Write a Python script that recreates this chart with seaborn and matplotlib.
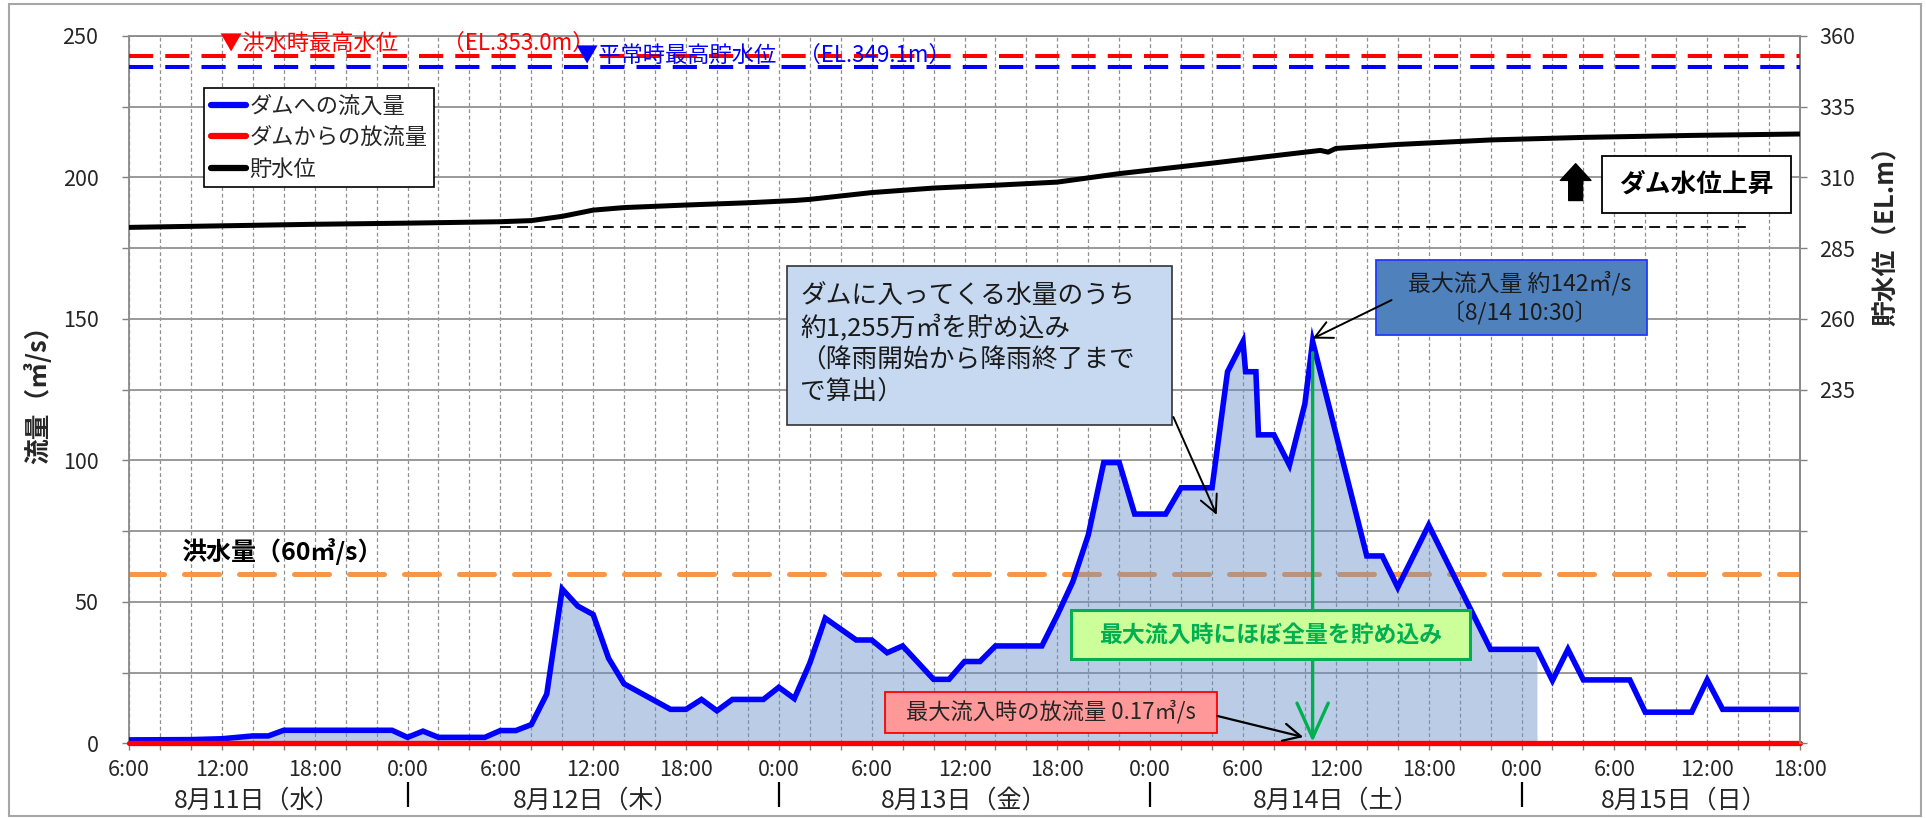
import numpy as np
import pandas as pd
import matplotlib
matplotlib.use("Agg")
import matplotlib.pyplot as plt
from matplotlib.patches import Rectangle
from matplotlib.lines import Line2D
import seaborn as sns

# ---------------- data ----------------
YEAR = 2021
START = "08-11 06:00"
END = "08-15 18:00"

inflow_time = [
    "08-11 06:00", "08-11 10:00", "08-11 12:00", "08-11 14:00", "08-11 15:00", "08-11 16:00", "08-11 23:00",
    "08-12 00:00", "08-12 01:00", "08-12 02:00", "08-12 05:00", "08-12 06:00", "08-12 07:00", "08-12 08:00",
    "08-12 09:00", "08-12 10:00", "08-12 11:00", "08-12 12:00", "08-12 13:00", "08-12 14:00", "08-12 17:00",
    "08-12 18:00", "08-12 19:00", "08-12 20:00", "08-12 21:00", "08-12 23:00",
    "08-13 00:00", "08-13 01:00", "08-13 02:00", "08-13 03:00", "08-13 05:00", "08-13 06:00", "08-13 07:00",
    "08-13 08:00", "08-13 10:00", "08-13 11:00", "08-13 12:00", "08-13 13:00", "08-13 14:00", "08-13 17:00",
    "08-13 18:00", "08-13 19:00", "08-13 20:00", "08-13 21:00", "08-13 22:00", "08-13 23:00",
    "08-14 01:00", "08-14 02:00", "08-14 04:00", "08-14 05:00", "08-14 06:00", "08-14 06:10", "08-14 06:50",
    "08-14 07:00", "08-14 08:00", "08-14 09:00", "08-14 10:00", "08-14 10:30", "08-14 14:00", "08-14 15:00",
    "08-14 16:00", "08-14 18:00", "08-14 22:00",
    "08-15 01:00", "08-15 02:00", "08-15 03:00", "08-15 04:00", "08-15 07:00", "08-15 08:00", "08-15 11:00",
    "08-15 12:00", "08-15 13:00", "08-15 18:00",
]
inflow_value = [
    1.2, 1.3, 1.6, 2.6, 2.6, 4.6, 4.6,
    2.1, 4.3, 2.1, 2.1, 4.5, 4.5, 6.6, 17.4, 54.5, 48.5, 45.5, 30.0, 21.0, 12.0, 12.0, 15.5, 11.5, 15.5, 15.5,
    19.8, 15.8, 28.3, 44.2, 36.5, 36.5, 32.0, 34.4, 22.6, 22.6, 28.9, 28.9, 34.4, 34.4, 45.3, 57.1, 73.6,
    99.2, 99.2, 81.0,
    81.0, 90.3, 90.3, 131.3, 142.0, 131.3, 131.3, 109.0, 109.0, 98.3, 120.0, 142.0, 66.2, 66.2, 55.1, 77.1, 33.2,
    33.2, 22.2, 33.2, 22.4, 22.4, 11.0, 11.0, 22.4, 12.0, 12.0,
]

outflow_time = ["08-11 06:00", "08-15 18:00"]
outflow_value = [0.17, 0.17]

level_time = [
    "08-11 06:00", "08-11 18:00", "08-12 00:00", "08-12 06:00", "08-12 08:00", "08-12 10:00", "08-12 12:00",
    "08-12 14:00", "08-12 18:00", "08-12 22:00", "08-13 01:00", "08-13 02:00", "08-13 04:00", "08-13 06:00",
    "08-13 08:00", "08-13 10:00", "08-13 14:00", "08-13 18:00", "08-13 22:00", "08-14 04:00", "08-14 08:00",
    "08-14 11:00", "08-14 11:30", "08-14 12:00", "08-14 16:00", "08-14 22:00", "08-15 04:00", "08-15 11:00",
    "08-15 18:00",
]
level_value = [
    292.3, 293.4, 293.8, 294.3, 294.7, 296.2, 298.4, 299.3, 300.2, 301.0, 301.8, 302.2, 303.4, 304.6,
    305.4, 306.2, 307.2, 308.3, 311.3, 315.0, 317.6, 319.5, 318.9, 320.2, 321.6, 323.2, 324.1, 324.8, 325.3,
]

flood_discharge = 60          # 洪水量 m3/s
flood_max_level = 353.0       # 洪水時最高水位
normal_max_level = 349.1      # 平常時最高貯水位
peak_time = "08-14 10:30"
peak_inflow = 142.0
storage_end_time = "08-15 01:00"
base_line_span = ["08-12 06:00", "08-15 14:30"]

series_labels = ["ダムへの流入量", "ダムからの放流量", "貯水位"]
day_labels = ["8月11日（水）", "8月12日（木）", "8月13日（金）", "8月14日（土）", "8月15日（日）"]
day_boundaries = ["08-12 00:00", "08-13 00:00", "08-14 00:00", "08-15 00:00"]

T0 = pd.Timestamp(f"{YEAR}-{START}")


def to_hours(stamps):
    t = pd.to_datetime([f"{YEAR}-{s}" for s in stamps])
    return ((t - T0) / pd.Timedelta(hours=1)).to_numpy(dtype=float)


inflow_df = pd.DataFrame({"h": to_hours(inflow_time), "q": inflow_value})
outflow_df = pd.DataFrame({"h": to_hours(outflow_time), "q": outflow_value})
level_df = pd.DataFrame({"h": to_hours(level_time), "el": level_value})
H_END = to_hours([END])[0]
peak_h = to_hours([peak_time])[0]
fill_end_h = to_hours([storage_end_time])[0]

# ---------------- style ----------------
sns.set_theme(style="white")
plt.rcParams["font.family"] = ["Noto Sans CJK JP", "DejaVu Sans"]
plt.rcParams["axes.unicode_minus"] = False

W, H = 1926, 818
fig = plt.figure(figsize=(W / 100, H / 100), dpi=100)
fig.patch.set_facecolor("white")

ax_left, ax_right, ax_top, ax_bot = 129, 1800, 35.8, 743.3
ax = fig.add_axes([ax_left / W, 1 - ax_bot / H, (ax_right - ax_left) / W, (ax_bot - ax_top) / H])
ax.set_facecolor("white")

BLUE = "#0000FF"
RED = "#FF0000"
ORANGE = "#F79646"
GREEN = "#00B050"

# grid
ax.set_axisbelow(True)
ax.set_xlim(0, H_END)
ax.set_ylim(0, 250)
xt_pos = np.arange(0, H_END + 0.1, 2)
ax.set_xticks(xt_pos)
ax.set_xticklabels([f"{int((6 + h) % 24)}:00" if h % 6 == 0 else "" for h in xt_pos])
ax.set_yticks(np.arange(0, 251, 25))
ax.set_yticklabels([str(v) if v % 50 == 0 else "" for v in np.arange(0, 251, 25)])
ax.yaxis.grid(True, color="#999999", lw=1.4, ls="-")
ax.xaxis.grid(True, color="#8f8f8f", lw=0.9, ls=(0, (3, 2.2)))
ax.tick_params(axis="x", which="major", length=5, width=1, color="#808080", direction="out",
               labelsize=15.5, pad=6, bottom=True)
ax.tick_params(axis="y", which="major", length=5, width=1, color="#808080", direction="out",
               labelsize=15.5, pad=17, left=True)
for s in ["left", "bottom", "top", "right"]:
    ax.spines[s].set_color("#8a8a8a")
    ax.spines[s].set_linewidth(1.3)

# flood discharge line
ax.axhline(flood_discharge, color=ORANGE, lw=3.6, dashes=(7, 4), dash_capstyle="round", zorder=2)

# stored volume fill
mask = inflow_df["h"] <= fill_end_h
ax.fill_between(inflow_df["h"][mask], inflow_df["q"][mask], 0, color="#6a92c8", alpha=0.45, lw=0, zorder=3)

# inflow / outflow lines
sns.lineplot(data=inflow_df, x="h", y="q", ax=ax, color=BLUE, lw=4.0, estimator=None, zorder=5,
             solid_joinstyle="miter")
sns.lineplot(data=outflow_df, x="h", y="q", ax=ax, color=RED, lw=3.8, estimator=None, zorder=6)
ax.lines[-1].set_clip_on(False)
ax.set_xlabel("")
ax.set_ylabel("")
ax.set_xlim(0, H_END)
ax.set_ylim(0, 250)

# secondary axis: water level
ax2 = ax.twinx()
sns.lineplot(data=level_df, x="h", y="el", ax=ax2, color="black", lw=3.6, estimator=None, zorder=5)
ax2.set_ylim(110, 360)
ax2.set_xlim(0, H_END)
ax2.set_yticks(np.arange(110, 361, 25))
ax2.set_yticklabels([str(v) if v >= 235 else "" for v in np.arange(110, 361, 25)])
ax2.tick_params(axis="y", length=5, width=1, color="#808080", direction="out", labelsize=15.5, pad=9)
ax2.set_ylabel("")
ax2.set_xlabel("")
ax2.grid(False)
for s in ["left", "bottom", "top"]:
    ax2.spines[s].set_visible(False)
ax2.spines["right"].set_color("#8a8a8a")
ax2.spines["right"].set_linewidth(1.3)

ax2.axhline(flood_max_level, color=RED, lw=2.9, dashes=(6, 3), zorder=4)
ax2.axhline(normal_max_level, color=BLUE, lw=2.9, dashes=(6, 3), zorder=4)
bl = to_hours(base_line_span)
ax2.hlines(level_value[0], bl[0], bl[1], color="black", lw=1.3, linestyles=(0, (6, 3.5)), zorder=4)

ax2.text(5.9, 357.5, f"▼洪水時最高水位　　（EL.{flood_max_level:.1f}m）", color=RED, fontsize=16,
         ha="left", va="center", zorder=6)
ax2.text(28.9, 353.2, f"▼平常時最高貯水位　（EL.{normal_max_level:.1f}m）", color=BLUE, fontsize=16,
         ha="left", va="center", zorder=6)

# ---------- annotations (left axis data coords) ----------
def box(x0, x1, y0, y1, fc, ec, lw, z=8):
    ax.add_patch(Rectangle((x0, y0), x1 - x0, y1 - y0, facecolor=fc, edgecolor=ec, lw=lw, zorder=z,
                           clip_on=False))

ax.text(3.36, 67.6, f"洪水量（{flood_discharge}㎥/s）", fontsize=18, fontweight="bold", color="black",
        ha="left", va="center", zorder=7)

# light blue storage box
box(42.53, 67.42, 112.5, 168.7, "#c6d9f1", "#333333", 1.2)
ax.text(43.4, 141.1, "ダムに入ってくる水量のうち\n約1,255万㎥を貯め込み\n（降雨開始から降雨終了まで\nで算出）",
        fontsize=18.5, ha="left", va="center", linespacing=1.28, color="#1a1a1a", zorder=9)
ax.annotate("", xy=(70.3, 80.7), xytext=(67.5, 115.3),
            arrowprops=dict(arrowstyle="->,head_length=0.5,head_width=0.25", color="black", lw=1.4,
                            mutation_scale=25, shrinkA=0, shrinkB=0), zorder=9)

# peak box
box(80.58, 98.12, 144.1, 170.9, "#4f81bd", "#1f3cff", 1.3)
ax.text(89.85, 157.4, f"最大流入量 約{peak_inflow:.0f}㎥/s\n〔8/14 10:30〕", fontsize=16.5,
        ha="center", va="center", linespacing=1.3, color="#1c1c1c", zorder=9)
ax.annotate("", xy=(peak_h, peak_inflow + 1), xytext=(81.6, 156.6),
            arrowprops=dict(arrowstyle="->,head_length=0.5,head_width=0.25", color="black", lw=1.4,
                            mutation_scale=25, shrinkA=0, shrinkB=0), zorder=9)

# green vertical arrow
ax.annotate("", xy=(peak_h, 0.5), xytext=(peak_h, peak_inflow - 4),
            arrowprops=dict(arrowstyle="->,head_length=1.0,head_width=0.45", color=GREEN, lw=2.4,
                            mutation_scale=25, shrinkA=0, shrinkB=0), zorder=7)

# green box
box(60.89, 86.68, 29.8, 47.1, "#ccff99", GREEN, 2.2)
ax.text(73.8, 38.3, "最大流入時にほぼ全量を貯め込み", fontsize=16.5, fontweight="bold", color=GREEN,
        ha="center", va="center", zorder=9)

# pink box
box(48.87, 70.33, 3.75, 18.2, "#ff9999", RED, 1.3)
ax.text(59.6, 11.0, f"最大流入時の放流量 {outflow_value[0]}㎥/s", fontsize=16, color="#262626",
        ha="center", va="center", zorder=9)
ax.annotate("", xy=(75.9, 2.2), xytext=(70.35, 9.65),
            arrowprops=dict(arrowstyle="->,head_length=0.5,head_width=0.25", color="black", lw=1.6,
                            mutation_scale=25, shrinkA=0, shrinkB=0), zorder=9)

# water level rising box
box(95.2, 107.4, 187.4, 207.6, "white", "black", 1.3)
ax.text(101.3, 197.5, "ダム水位上昇", fontsize=18.5, fontweight="bold", color="black",
        ha="center", va="center", zorder=9)
ax.annotate("", xy=(93.5, 204.8), xytext=(93.5, 191.8),
            arrowprops=dict(arrowstyle="simple,head_width=1.1,head_length=0.6,tail_width=0.5",
                            color="black", mutation_scale=20, shrinkA=0, shrinkB=0), zorder=9)

# day labels and separators under the axis
day_centers = [8.3, 30.2, 54.0, 78.0, 100.5]
xt = ax.get_xaxis_transform()
for c, lab in zip(day_centers, day_labels):
    ax.text(c, -0.0816, lab, fontsize=18, ha="center", va="center", transform=xt, clip_on=False)
ax.vlines(to_hours(day_boundaries), -0.0901, -0.0547, transform=xt, color="black", lw=1.6, clip_on=False)

# axis titles
fig.text(38 / W, 1 - 388 / H, "流量（㎥/s）", rotation=90, fontsize=18.5, fontweight="bold",
         ha="center", va="center")
fig.text(1885 / W, 1 - 230 / H, "貯水位（EL.m）", rotation=90, fontsize=18.5, fontweight="bold",
         ha="center", va="center")

# legend
handles = [Line2D([0], [0], color=BLUE, lw=4.5, solid_capstyle="round"),
           Line2D([0], [0], color=RED, lw=4.5, solid_capstyle="round"),
           Line2D([0], [0], color="black", lw=4.5, solid_capstyle="round")]
leg = fig.legend(handles, series_labels, loc="upper left", bbox_to_anchor=(204 / W, 1 - 88 / H),
                 frameon=True, fancybox=False, edgecolor="black", framealpha=1, fontsize=16,
                 handlelength=1.6, handletextpad=0.15, borderpad=0.3, labelspacing=0.38, borderaxespad=0)
leg.get_frame().set_linewidth(1.2)

# outer chart border
fig.add_artist(Rectangle((9 / W, 2 / H), 1912 / W, 812 / H, transform=fig.transFigure, fill=False,
                         edgecolor="#a6a6a6", lw=1.5))

fig.savefig("out.png", dpi=100, facecolor="white")
